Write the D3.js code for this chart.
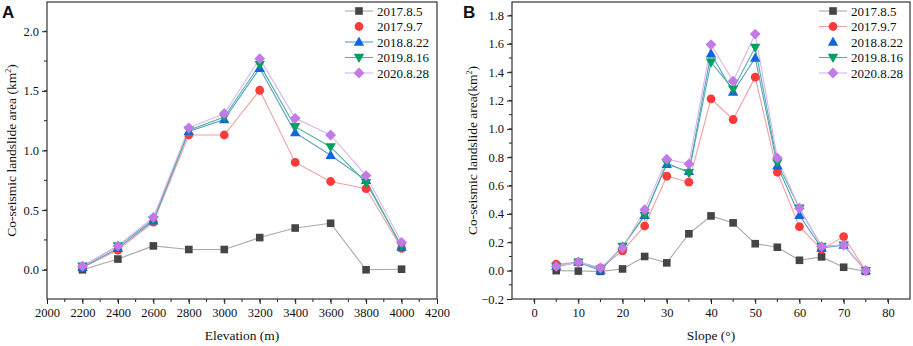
<!DOCTYPE html>
<html>
<head>
<meta charset="utf-8">
<script src="https://cdn.jsdelivr.net/npm/d3@7"></script>
<style>
  body { margin: 0; background: #fff; }
  svg { display: block; font-family: "Liberation Serif", "Times New Roman", serif; }
</style>
</head>
<body>
<svg id="chart" width="913" height="346"></svg>
<script>
let seriesNames = ["2017.8.5", "2017.9.7", "2018.8.22", "2019.8.16", "2020.8.28"];

let elevation = [2200, 2400, 2600, 2800, 3000, 3200, 3400, 3600, 3800, 4000];
let elevA1 = [0.00, 0.09, 0.20, 0.17, 0.17, 0.27, 0.35, 0.39, 0.00, 0.005];
let elevA2 = [0.02, 0.165, 0.40, 1.13, 1.13, 1.505, 0.90, 0.74, 0.68, 0.18];
let elevA3 = [0.02, 0.18, 0.41, 1.16, 1.26, 1.69, 1.15, 0.96, 0.75, 0.19];
let elevA4 = [0.03, 0.20, 0.42, 1.17, 1.28, 1.72, 1.20, 1.03, 0.73, 0.20];
let elevA5 = [0.03, 0.20, 0.44, 1.19, 1.31, 1.77, 1.27, 1.13, 0.79, 0.23];

let slope = [5, 10, 15, 20, 25, 30, 35, 40, 45, 50, 55, 60, 65, 70, 75];
let slopeB1 = [0.00, -0.003, -0.005, 0.012, 0.10, 0.055, 0.26, 0.386, 0.337, 0.19, 0.165, 0.073, 0.097, 0.024, -0.005];
let slopeB2 = [0.045, 0.06, 0.02, 0.14, 0.315, 0.666, 0.624, 1.212, 1.066, 1.365, 0.694, 0.31, 0.15, 0.24, 0.00];
let slopeB3 = [0.03, 0.06, 0.00, 0.17, 0.39, 0.75, 0.70, 1.53, 1.26, 1.50, 0.74, 0.39, 0.16, 0.18, 0.00];
let slopeB4 = [0.03, 0.06, 0.01, 0.17, 0.39, 0.76, 0.69, 1.47, 1.28, 1.575, 0.76, 0.44, 0.17, 0.18, 0.00];
let slopeB5 = [0.03, 0.06, 0.02, 0.16, 0.43, 0.786, 0.753, 1.595, 1.337, 1.669, 0.795, 0.44, 0.17, 0.18, 0.00];

let xTicksA = d3.range(2000, 4201, 200);
let yTicksA = [0.0, 0.5, 1.0, 1.5, 2.0];
let xTicksB = d3.range(0, 81, 10);
let yTicksB = [-0.2, 0.0, 0.2, 0.4, 0.6, 0.8, 1.0, 1.2, 1.4, 1.6, 1.8];

let markerColors = ["#454545", "#ff3a3a", "#1166dd", "#00a060", "#c27ae8"];
let lineColors = ["#a8a8a8", "#f0a0a0", "#5e9cc8", "#4cb5a0", "#dcb4f0"];
let symbols = ["square", "circle", "up", "down", "diamond"];
let serif = "'Liberation Serif', 'Times New Roman', serif";

let svg = d3.select("#chart");

function marker(g, type, x, y, color) {
  if (type == "square") {
    g.append("rect").attr("x", x - 3.8).attr("y", y - 3.8).attr("width", 7.6).attr("height", 7.6).attr("fill", color);
  } else if (type == "circle") {
    g.append("circle").attr("cx", x).attr("cy", y).attr("r", 4.4).attr("fill", color);
  } else if (type == "up") {
    g.append("path").attr("d", `M${x},${y - 5.4}L${x + 5.2},${y + 3.7}L${x - 5.2},${y + 3.7}Z`).attr("fill", color);
  } else if (type == "down") {
    g.append("path").attr("d", `M${x},${y + 5.4}L${x + 5.2},${y - 3.7}L${x - 5.2},${y - 3.7}Z`).attr("fill", color);
  } else {
    g.append("path").attr("d", `M${x},${y - 5.4}L${x + 5.4},${y}L${x},${y + 5.4}L${x - 5.4},${y}Z`).attr("fill", color);
  }
}

function drawPanel(opt) {
  let x = d3.scaleLinear().domain(opt.xDomain).range([opt.left, opt.right]);
  let y = d3.scaleLinear().domain(opt.yDomain).range([opt.bottom, opt.top]);
  let g = svg.append("g");

  // minor ticks
  let xMinor = d3.range(opt.xDomain[0], opt.xDomain[1] + 1e-9, opt.xStep / 2)
    .filter(d => d > opt.xDomain[0] && d < opt.xDomain[1]);
  g.selectAll(".xminor").data(xMinor).enter().append("line")
    .attr("x1", d => x(d)).attr("x2", d => x(d))
    .attr("y1", opt.bottom).attr("y2", opt.bottom + 3)
    .attr("stroke", "#222").attr("stroke-width", 1);
  let yMinor = d3.range(opt.yTicks[0] - opt.yStep / 2, opt.yDomain[1], opt.yStep / 2)
    .filter(d => d > opt.yDomain[0] && d < opt.yDomain[1]);
  g.selectAll(".yminor").data(yMinor).enter().append("line")
    .attr("x1", opt.left - 3).attr("x2", opt.left)
    .attr("y1", d => y(d)).attr("y2", d => y(d))
    .attr("stroke", "#222").attr("stroke-width", 1);

  let xAxis = g.append("g")
    .attr("transform", `translate(0,${opt.bottom})`)
    .call(d3.axisBottom(x).tickValues(opt.xTicks).tickSize(5).tickPadding(4).tickFormat(d3.format("d")));
  let yAxis = g.append("g")
    .attr("transform", `translate(${opt.left},0)`)
    .call(d3.axisLeft(y).tickValues(opt.yTicks).tickSize(5).tickPadding(3).tickFormat(d3.format(".1f")));
  [xAxis, yAxis].forEach(a => {
    a.attr("font-family", serif);
    a.select(".domain").remove();
    a.selectAll("line").attr("stroke", "#222");
    a.selectAll("text").attr("font-size", 12.5).attr("fill", "#111");
  });

  g.append("rect")
    .attr("x", opt.left).attr("y", opt.top)
    .attr("width", opt.right - opt.left).attr("height", opt.bottom - opt.top)
    .attr("fill", "none").attr("stroke", "#333").attr("stroke-width", 1.2);

  let line = d3.line().x(d => x(d[0])).y(d => y(d[1]));
  opt.series.forEach((vals, i) => {
    let pts = opt.xs.map((d, j) => [d, vals[j]]);
    g.append("path").attr("d", line(pts))
      .attr("fill", "none").attr("stroke", lineColors[i]).attr("stroke-width", 1.1);
  });
  opt.series.forEach((vals, i) => {
    let mg = g.append("g");
    opt.xs.forEach((d, j) => marker(mg, symbols[i], x(d), y(vals[j]), markerColors[i]));
  });

  // legend
  let lg = g.append("g");
  seriesNames.forEach((name, i) => {
    let ly = 11 + i * 15.5;
    if (opt.legendNoLine != i) {
      lg.append("line").attr("x1", opt.legX).attr("x2", opt.legX + 28)
        .attr("y1", ly).attr("y2", ly).attr("stroke", lineColors[i]).attr("stroke-width", 1.1);
    }
    marker(lg, symbols[i], opt.legX + 14, ly, markerColors[i]);
    lg.append("text").attr("x", opt.legX + 32).attr("y", ly + 4.5)
      .attr("font-size", 13).attr("fill", "#111").text(name);
  });

  g.append("text")
    .attr("x", (opt.left + opt.right) / 2).attr("y", 340)
    .attr("text-anchor", "middle").attr("font-size", 13.5).attr("fill", "#111")
    .text(opt.xTitle);
  let yt = g.append("text")
    .attr("transform", `translate(${opt.yTitleX},${(opt.top + opt.bottom) / 2}) rotate(-90)`)
    .attr("text-anchor", "middle").attr("font-size", 13.5).attr("fill", "#111");
  yt.append("tspan").text(opt.yTitle);
  yt.append("tspan").attr("font-size", 8).attr("dy", -5).text("2");
  yt.append("tspan").attr("dy", 5).text(")");

  g.append("text").attr("x", opt.labelX).attr("y", 18)
    .attr("font-family", "'Liberation Sans', Arial, sans-serif").attr("font-weight", "bold")
    .attr("font-size", 17).attr("fill", "#111").text(opt.label);
}

drawPanel({
  label: "A", labelX: 2,
  left: 47, right: 437, top: 2, bottom: 299,
  xDomain: [2000, 4200], yDomain: [-0.245, 2.245], xStep: 200, yStep: 0.5,
  xTicks: xTicksA, yTicks: yTicksA,
  xs: elevation, series: [elevA1, elevA2, elevA3, elevA4, elevA5],
  legX: 345, legendNoLine: 1,
  xTitle: "Elevation (m)", yTitle: "Co-seismic landslide area (km", yTitleX: 16
});

drawPanel({
  label: "B", labelX: 463,
  left: 512, right: 910, top: 2, bottom: 299,
  xDomain: [-5, 85], yDomain: [-0.2, 1.895], xStep: 10, yStep: 0.2,
  xTicks: xTicksB, yTicks: yTicksB,
  xs: slope, series: [slopeB1, slopeB2, slopeB3, slopeB4, slopeB5],
  legX: 819, legendNoLine: 2,
  xTitle: "Slope (°)", yTitle: "Co-seismic landslide area(km", yTitleX: 477
});
</script>
</body>
</html>
